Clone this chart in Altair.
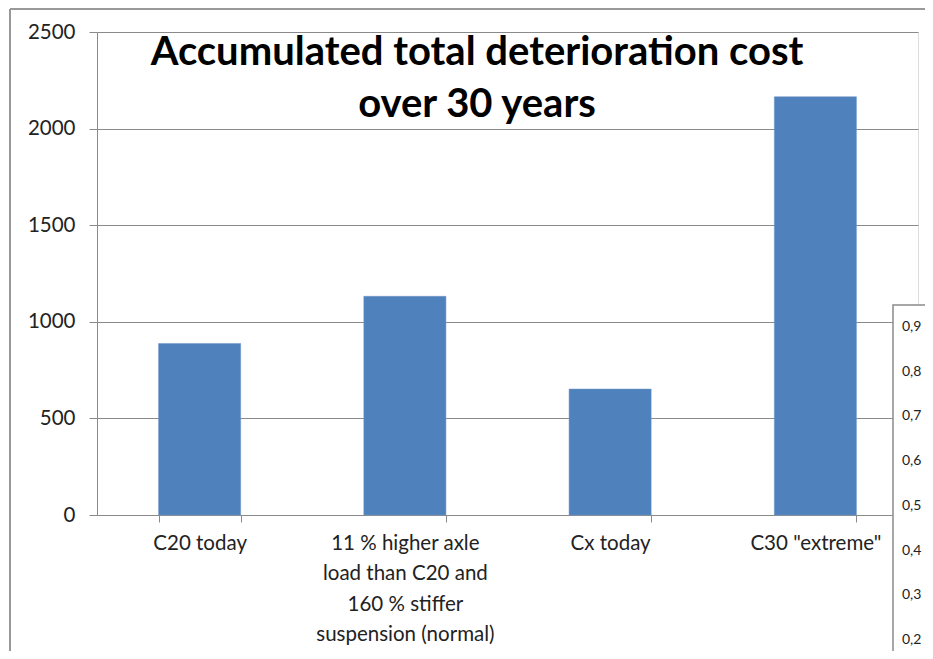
import altair as alt
import pandas as pd

categories = ["C20 today",
              "11 % higher axle|load than C20 and|160 % stiffer|suspension (normal)",
              "Cx today",
              'C30 "extreme"']
values = [888, 1132, 652, 2165]
y_ticks = [0, 500, 1000, 1500, 2000, 2500]
title_lines = ["Accumulated total deterioration cost", "over 30 years"]
overlay_ticks = [0.9, 0.8, 0.7, 0.6, 0.5, 0.4, 0.3, 0.2]
overlay_labels = ["0,9", "0,8", "0,7", "0,6", "0,5", "0,4", "0,3", "0,2"]

FONT = "Lato"
GRAY = "#8a8a8a"
BLUE = "#4F81BD"

df = pd.DataFrame({"cat": categories, "value": values})

bars = alt.Chart(df).mark_bar(color=BLUE, stroke="#6f95c6", strokeWidth=0.5).encode(
    x=alt.X("cat:N", sort=None, title=None,
            scale=alt.Scale(paddingInner=0.6, paddingOuter=0.3),
            axis=alt.Axis(labelAngle=0, labelExpr="split(datum.label, '|')",
                          labelLineHeight=30.5, labelFontSize=20.5, labelFont=FONT,
                          labelColor="#222222", labelPadding=11, tickBand="extent",
                          tickSize=7, tickColor=GRAY, domainColor=GRAY,
                          labelBaseline="top", grid=False)),
    y=alt.Y("value:Q", title=None,
            scale=alt.Scale(domain=[0, 2500], nice=False),
            axis=alt.Axis(values=y_ticks, labelFontSize=20.5, labelFont=FONT,
                          labelColor="#222222", labelPadding=14, tickSize=8,
                          tickColor=GRAY, domainColor=GRAY, gridColor=GRAY,
                          grid=True, format="d")),
)

frame_v = alt.Chart(pd.DataFrame({"a": [0]})).mark_rule(color="#999999", strokeWidth=2).encode(
    x=alt.value(-87), y=alt.value(-23), y2=alt.value(640))
frame_h = alt.Chart(pd.DataFrame({"a": [0]})).mark_rule(color="#999999", strokeWidth=2).encode(
    x=alt.value(-87), x2=alt.value(840), y=alt.value(-23))

title = alt.Chart(pd.DataFrame({"t": ["\n".join(title_lines)]})).mark_text(
    font=FONT, fontSize=40, fontWeight="bold", color="#000000",
    align="center", baseline="middle", lineBreak="\n", lineHeight=52).encode(
    x=alt.value(380), y=alt.value(21), text="t:N")

box = alt.Chart(pd.DataFrame({"a": [0]})).mark_rect(
    fill="white", stroke=GRAY, strokeWidth=1.5).encode(
    x=alt.value(796), x2=alt.value(900), y=alt.value(273), y2=alt.value(700))

ov = pd.DataFrame({"v": overlay_ticks, "lab": overlay_labels})
ov_text = alt.Chart(ov).mark_text(font=FONT, fontSize=14, color="#222222",
                                   align="left", baseline="middle").encode(
    x=alt.value(805),
    y=alt.Y("v:Q", axis=None, scale=alt.Scale(domain=[0.2, 0.9], range=[608, 295])),
    text="lab:N")

chart = alt.layer(bars, title, box, ov_text, frame_v, frame_h).resolve_scale(
    y="independent"
).properties(
    width=821, height=483,
    autosize=alt.AutoSizeParams(type="none"),
    padding={"left": 89, "top": 24, "right": 7, "bottom": 136},
).configure_view(stroke=None).configure(background="white")

chart.save("out.html", embed_options={"renderer": "svg", "actions": False})
